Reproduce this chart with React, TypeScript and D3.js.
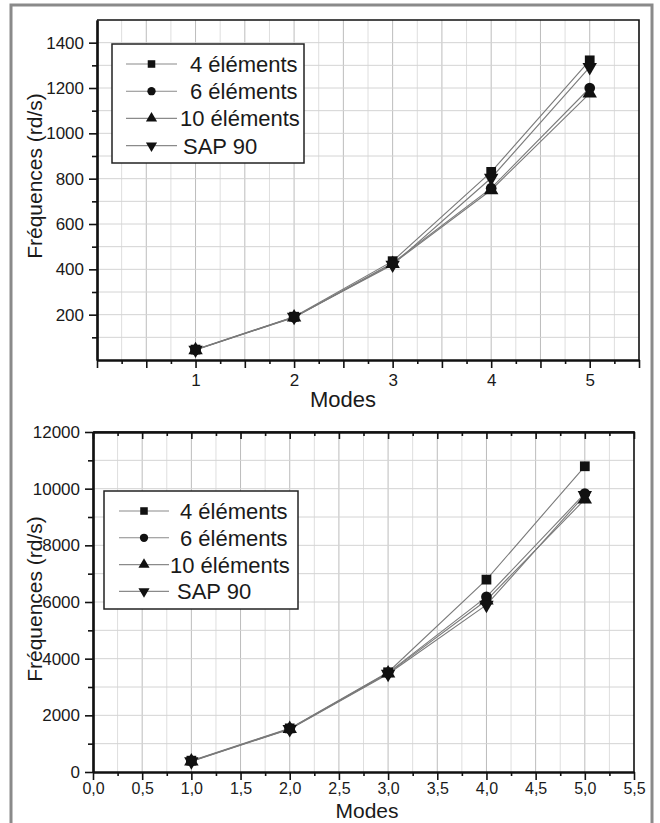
import React, { useEffect, useRef } from 'react';
import * as d3 from 'd3';

// modes on the x axis
const modes = [1, 2, 3, 4, 5];
const seriesNames = ['4 éléments', '6 éléments', '10 éléments', 'SAP 90'];

// upper chart, frequencies in rd/s
const topFour = [46, 191, 436, 830, 1322];
const topSix = [45, 189, 428, 758, 1200];
const topTen = [44, 188, 424, 750, 1176];
const topSap = [45, 190, 420, 803, 1292];

// lower chart, frequencies in rd/s
const botFour = [400, 1540, 3520, 6790, 10790];
const botSix = [390, 1530, 3500, 6180, 9830];
const botTen = [380, 1520, 3480, 6060, 9620];
const botSap = [370, 1510, 3460, 5900, 9770];

const topYTicks = [200, 400, 600, 800, 1000, 1200, 1400];
const botYTicks = [0, 2000, 4000, 6000, 8000, 10000, 12000];

const FONT = '"Liberation Sans", Arial, sans-serif';

const App = () => {
  const svgRef = useRef(null);

  useEffect(() => {
    const svg = d3.select(svgRef.current);
    svg.selectAll('*').remove();

    // grey outer frame
    svg.append('rect')
      .attr('x', 11).attr('y', 5)
      .attr('width', 641).attr('height', 830)
      .attr('fill', 'white')
      .attr('stroke', '#8a8a8a')
      .attr('stroke-width', 3);

    const symbols = [
      { type: d3.symbolSquare, size: 95, rot: 0 },
      { type: d3.symbolCircle, size: 90, rot: 0 },
      { type: d3.symbolTriangle, size: 90, rot: 0 },
      { type: d3.symbolTriangle, size: 90, rot: 180 },
    ];

    const drawChart = (cfg) => {
      const { left, right, top, bottom, yMax, yMinor, yMajor, yTicks, series, xLabelAll, legend } = cfg;
      const g = svg.append('g');

      const x = d3.scaleLinear().domain([0, 5.5]).range([left, right]);
      const y = d3.scaleLinear().domain([0, yMax]).range([bottom, top]);

      const quarter = d3.range(1, 22).map(i => i * 0.25);
      const halves = d3.range(0, 12).map(i => i * 0.5);

      // grid
      g.selectAll('.vgrid')
        .data(quarter)
        .enter()
        .append('line')
        .attr('x1', d => x(d)).attr('x2', d => x(d))
        .attr('y1', top).attr('y2', bottom)
        .attr('stroke', (d, i) => (i % 2 === 1 ? '#bcbcbc' : '#dedede'))
        .attr('stroke-width', 1);

      const hLines = d3.range(yMinor, yMax, yMinor);
      g.selectAll('.hgrid')
        .data(hLines)
        .enter()
        .append('line')
        .attr('x1', left).attr('x2', right)
        .attr('y1', d => y(d)).attr('y2', d => y(d))
        .attr('stroke', '#d4d4d4')
        .attr('stroke-width', 1);

      // top and right border
      g.append('path')
        .attr('d', `M${left},${top}H${right}V${bottom}`)
        .attr('fill', 'none')
        .attr('stroke', '#111')
        .attr('stroke-width', 1.6);

      // x axis minor + major
      const xMinorAxis = d3.axisBottom(x)
        .tickValues(quarter.filter((d, i) => i % 2 === 0))
        .tickSize(4).tickSizeOuter(0).tickFormat(() => '');
      const xMajorAxis = d3.axisBottom(x)
        .tickValues(halves)
        .tickSize(8).tickSizeOuter(0)
        .tickFormat(d => {
          if (xLabelAll) return d3.format('.1f')(d).replace('.', ',');
          return Number.isInteger(d) && d > 0 ? String(d) : '';
        })
        .tickPadding(cfg.xPad);

      g.append('g').attr('transform', `translate(0,${bottom})`).call(xMinorAxis);
      const xa2 = g.append('g').attr('transform', `translate(0,${bottom})`).call(xMajorAxis);

      if (cfg.topTicks) {
        g.append('g').attr('transform', `translate(0,${top})`)
          .call(d3.axisBottom(x).tickValues(quarter.filter((d, i) => i % 2 === 0)).tickSize(4).tickSizeOuter(0).tickFormat(() => ''));
        g.append('g').attr('transform', `translate(0,${top})`)
          .call(d3.axisBottom(x).tickValues(halves).tickSize(7).tickSizeOuter(0).tickFormat(() => ''));
      }

      // y axis
      const yMinorAxis = d3.axisLeft(y)
        .tickValues(d3.range(yMinor, yMax, yMajor))
        .tickSize(5).tickSizeOuter(0).tickFormat(() => '');
      const yMajorAxis = d3.axisLeft(y)
        .tickValues(yTicks)
        .tickSize(8).tickSizeOuter(0)
        .tickFormat(d3.format('d'))
        .tickPadding(5);
      g.append('g').attr('transform', `translate(${left},0)`).call(yMinorAxis);
      const ya2 = g.append('g').attr('transform', `translate(${left},0)`).call(yMajorAxis);

      g.selectAll('.domain').attr('stroke', '#111').attr('stroke-width', 2.2);
      g.selectAll('.tick line').attr('stroke', '#111').attr('stroke-width', 1.6);
      ya2.selectAll('text')
        .attr('font-family', FONT)
        .attr('font-size', 17)
        .attr('fill', '#1a1a1a');
      xa2.selectAll('text')
        .attr('font-family', FONT)
        .attr('font-size', cfg.xFont)
        .attr('fill', '#1a1a1a')
        .attr('dy', '0.72em');

      // axis titles
      g.append('text')
        .attr('x', cfg.modesX)
        .attr('y', cfg.modesY)
        .attr('text-anchor', 'middle')
        .attr('font-family', FONT)
        .attr('font-size', cfg.modesFont)
        .attr('fill', '#1a1a1a')
        .text('Modes');

      g.append('text')
        .attr('transform', `translate(${cfg.freqX},${cfg.freqY}) rotate(-90)`)
        .attr('text-anchor', 'middle')
        .attr('font-family', FONT)
        .attr('font-size', 21)
        .attr('fill', '#1a1a1a')
        .text('Fréquences (rd/s)');

      // series lines
      const line = d3.line()
        .x((d, i) => x(modes[i]))
        .y(d => y(d));

      series.forEach(s => {
        g.append('path')
          .datum(s)
          .attr('d', line)
          .attr('fill', 'none')
          .attr('stroke', '#7a7a7a')
          .attr('stroke-width', 1.1);
      });

      // markers
      series.forEach((s, k) => {
        const sym = symbols[k];
        g.selectAll(`.m${k}`)
          .data(s)
          .enter()
          .append('path')
          .attr('d', d3.symbol().type(sym.type).size(sym.size))
          .attr('transform', (d, i) => `translate(${x(modes[i])},${y(d)}) rotate(${sym.rot})`)
          .attr('fill', '#111');
      });

      // legend
      const lg = g.append('g');
      lg.append('rect')
        .attr('x', legend.x).attr('y', legend.y)
        .attr('width', legend.w).attr('height', legend.h)
        .attr('fill', 'white')
        .attr('stroke', '#222')
        .attr('stroke-width', 1.5);

      seriesNames.forEach((name, k) => {
        const cy = legend.rowY + k * legend.step;
        const sym = symbols[k];
        lg.append('line')
          .attr('x1', legend.lineX1).attr('x2', legend.lineX2)
          .attr('y1', cy).attr('y2', cy)
          .attr('stroke', '#8a8a8a')
          .attr('stroke-width', 1.1);
        lg.append('path')
          .attr('d', d3.symbol().type(sym.type).size(sym.size * 0.6))
          .attr('transform', `translate(${(legend.lineX1 + legend.lineX2) / 2},${cy}) rotate(${sym.rot})`)
          .attr('fill', '#111');
        lg.append('text')
          .attr('x', legend.textX[k])
          .attr('y', cy + 8)
          .attr('font-family', FONT)
          .attr('font-size', 22)
          .attr('fill', '#1a1a1a')
          .text(name);
      });
    };

    drawChart({
      left: 97, right: 639, top: 20, bottom: 360,
      yMax: 1500, yMinor: 100, yMajor: 200, yTicks: topYTicks,
      series: [topFour, topSix, topTen, topSap],
      xLabelAll: false, topTicks: false, xFont: 17, xPad: 6,
      modesX: 343, modesY: 407, modesFont: 22, freqX: 42, freqY: 176,
      legend: {
        x: 112, y: 44, w: 192, h: 119,
        rowY: 64, step: 27.2, lineX1: 126, lineX2: 177,
        textX: [190, 190, 180, 183],
      },
    });

    drawChart({
      left: 93, right: 634, top: 432, bottom: 772,
      yMax: 12000, yMinor: 1000, yMajor: 2000, yTicks: botYTicks,
      series: [botFour, botSix, botTen, botSap],
      xLabelAll: true, topTicks: true, xFont: 16, xPad: 2,
      modesX: 367, modesY: 818, modesFont: 21, freqX: 42, freqY: 599,
      legend: {
        x: 104, y: 491, w: 194, h: 118,
        rowY: 511, step: 26.8, lineX1: 119, lineX2: 169,
        textX: [180, 180, 170, 177],
      },
    });
  }, []);

  return (
    <svg
      ref={svgRef}
      width={660}
      height={823}
      style={{ position: 'absolute', left: 0, top: 0, background: 'white' }}
    />
  );
};

export default App;
